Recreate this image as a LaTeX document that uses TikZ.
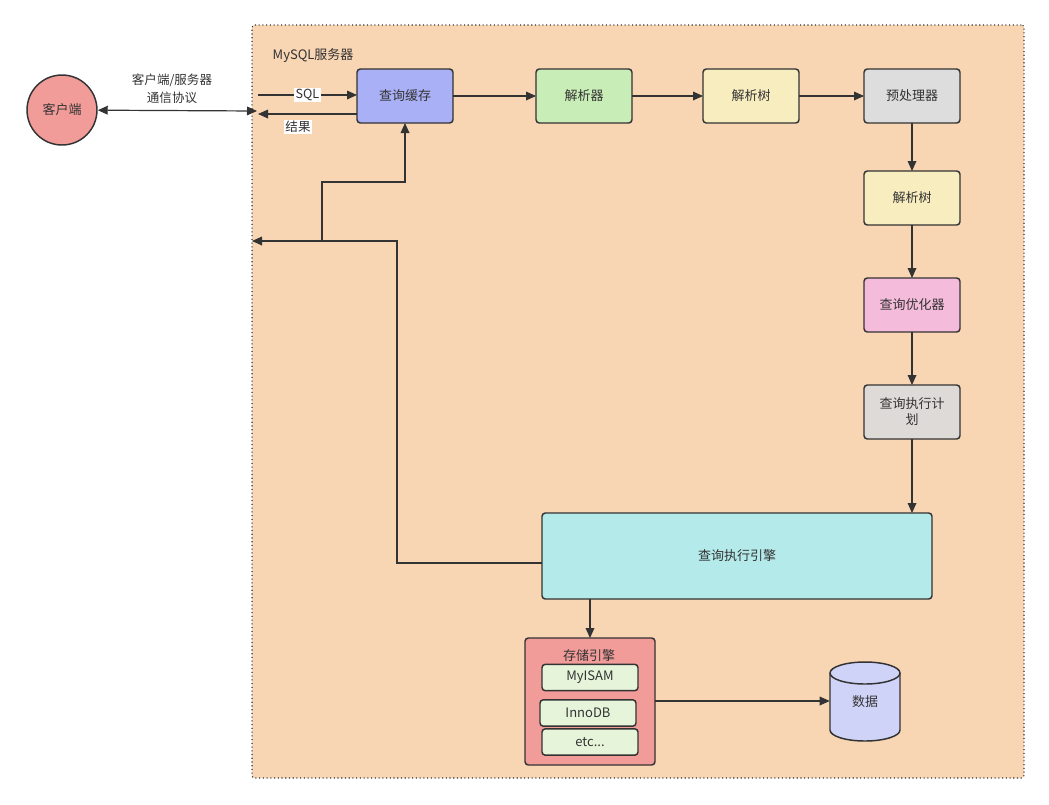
\documentclass[tikz,border=0pt]{standalone}
\usepackage{fontspec}
\setmainfont{Noto Sans CJK SC}
\usetikzlibrary{arrows.meta,positioning}
\definecolor{ln}{HTML}{333333}
\definecolor{txt}{HTML}{333333}
\definecolor{peach}{HTML}{F8D5B3}
\definecolor{redf}{HTML}{F19C99}
\definecolor{bluef}{HTML}{A9B0F5}
\definecolor{greenf}{HTML}{C9EDB6}
\definecolor{yellowf}{HTML}{F7EDBF}
\definecolor{grayf}{HTML}{DDDDDD}
\definecolor{pinkf}{HTML}{F4BBDB}
\definecolor{planf}{HTML}{DEDAD8}
\definecolor{cyanf}{HTML}{B5EAEA}
\definecolor{innerf}{HTML}{E6F5DA}
\definecolor{cylf}{HTML}{D0D3F8}
\begin{document}
\begin{tikzpicture}[x=0.75pt,y=-0.75pt,
  font=\fontsize{9.75}{12}\selectfont, text=txt,
  box/.style={draw=ln, line width=1.1pt, rounded corners=2.5pt, inner sep=0pt, outer sep=0pt,
    minimum width=72pt, minimum height=40.5pt, align=center},
  small/.style={box, minimum height=19.8pt},
  arr/.style={draw=ln, line width=0.9pt, -{Triangle[length=7.5pt,width=6.5pt]}},
  lbl/.style={fill=white, inner sep=1pt, font=\fontsize{9.4}{11}\selectfont}]
\useasboundingbox (0,0) rectangle (1049,804);
% container
\node[draw=ln, dotted, line width=0.8pt, fill=peach, rounded corners=2pt, inner sep=0pt,
  minimum width=579pt, minimum height=564.75pt] (srv) at (638,401.5) {};
\node[anchor=west] (srvlbl) at (268,56) {MySQL服务器};
% client
\node[circle, draw=ln, line width=1.1pt, fill=redf, minimum size=52.5pt, inner sep=0pt] (client) at (62,110) {客户端};
\node[align=center, font=\fontsize{9.4}{13.5}\selectfont] (proto) at (172,89) {客户端/服务器\\通信协议};
\coordinate (srvin) at (257,111);
\draw[draw=ln, line width=0.9pt, {Triangle[length=7.5pt,width=6.5pt]}-{Triangle[length=7.5pt,width=6.5pt]}] (client) -- (srvin);
% top row
\node[box, fill=bluef] (cache) at (405,96) {查询缓存};
\node[box, fill=greenf] (parser) at (584,96) {解析器};
\node[box, fill=yellowf] (tree1) at (751,96) {解析树};
\node[box, fill=grayf] (pre) at (912,96) {预处理器};
\node[box, fill=yellowf] (tree2) at (912,198) {解析树};
\node[box, fill=pinkf] (opt) at (912,305) {查询优化器};
\node[box, fill=planf] (plan) at (912,412) {查询执行计\\划};
\node[box, fill=cyanf, minimum width=292.5pt, minimum height=64.5pt] (exec) at (737,556) {查询执行引擎};
% storage engine
\node[box, fill=redf, minimum width=97.5pt, minimum height=95.25pt] (store) at (590,701.5) {};
\node (storelbl) at (589,656) {存储引擎};
\node[small, fill=innerf] (myisam) at (590,677.5) {MyISAM};
\node[small, fill=innerf] (innodb) at (588,713) {InnoDB};
\node[small, fill=innerf] (etc) at (590,742) {etc...};
% database cylinder
\node[minimum width=52.5pt, minimum height=59.25pt, inner sep=0pt] (data) at (865,701.5) {};
\draw[draw=ln, line width=1.1pt, fill=cylf] (830,673) -- (830,730) arc[start angle=180, end angle=0, x radius=35, y radius=11] -- (900,673) arc[start angle=0, end angle=-180, x radius=35, y radius=11] -- cycle;
\draw[draw=ln, line width=1.1pt] (830,673) arc[start angle=180, end angle=0, x radius=35, y radius=11];
\node at (865,702) {数据};
% connectors
\coordinate (sqlin) at (258,95);
\draw[arr] (sqlin) -- (sqlin -| cache.west) node[lbl, pos=0.5] {SQL};
\coordinate (resout) at (258,114);
\coordinate (resstart) at (357,114);
\draw[arr] (resstart) -- (resout);
\node[lbl] (reslbl) at (298,127) {结果};
\draw[arr] (cache) -- (parser);
\draw[arr] (parser) -- (tree1);
\draw[arr] (tree1) -- (pre);
\draw[arr] (pre) -- (tree2);
\draw[arr] (tree2) -- (opt);
\draw[arr] (opt) -- (plan);
\draw[arr] (plan) -- (plan.south |- exec.north);
\coordinate (retout) at (252,241);
\draw[arr] (exec.west |- 0,563) -- (397,563) -- (397,241) -- (retout);
\coordinate (fork) at (322,240);
\draw[arr] (fork) -- (322,182) -- (405,182) -- (cache.south);
\draw[arr] (590,599) -- (590,638);
\draw[arr] (store.east |- 0,701) -- (data.west |- 0,701);
\end{tikzpicture}
\end{document}
